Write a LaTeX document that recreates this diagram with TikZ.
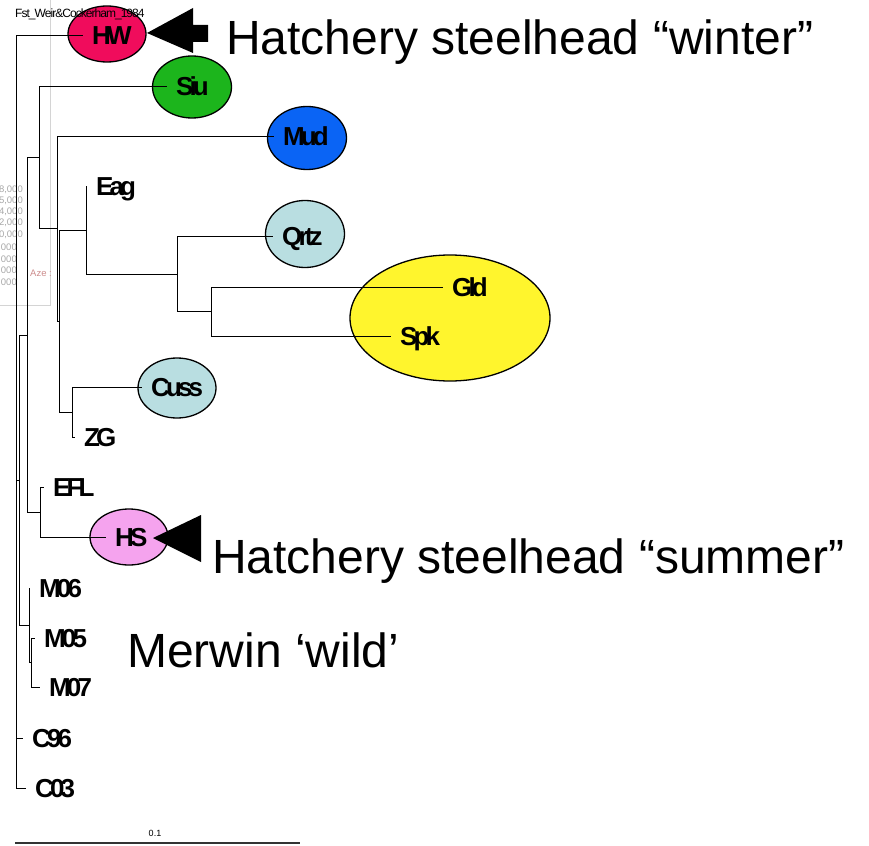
\documentclass[tikz,border=0pt]{standalone}
\usepackage{fontspec}
\setmainfont{Liberation Sans}
\newfontfamily\taxfam{Liberation Sans}[LetterSpace=-15]
\newfontfamily\notefam{Liberation Sans}[LetterSpace=-8]
\definecolor{hwred}{HTML}{F00C5C}
\definecolor{siugreen}{HTML}{1CB51C}
\definecolor{mudblue}{HTML}{0A64F5}
\definecolor{paleblue}{HTML}{B9DEE1}
\definecolor{gldyellow}{HTML}{FFF52D}
\definecolor{hspink}{HTML}{F5A3EE}
\definecolor{ghost}{HTML}{D4D4D4}
\definecolor{ghosttext}{HTML}{A8A8A8}
\definecolor{ghostred}{HTML}{CC8C8C}
\tikzset{
  br/.style={draw=black, line width=0.8pt},
  blob/.style={draw=black, line width=1.3pt},
  tax/.style={font={\taxfam\bfseries\fontsize{26}{26}\selectfont}, anchor=west,
    inner xsep=9pt, inner ysep=0pt, text height=19pt, text depth=0pt},
  callout/.style={font={\fontsize{48}{48}\selectfont}, anchor=base west, inner sep=0pt},
  pointer/.style={fill=black},
  ghosttxt/.style={text=ghosttext, font={\fontsize{9.5}{9.5}\selectfont}, inner sep=0pt, anchor=east},
}

\begin{document}
\begin{tikzpicture}[x=1pt, y=-1pt]
  \useasboundingbox (0,0) rectangle (869,845);

  % faded remains of a pasted window
  \draw[ghost, line width=0.8pt] (50,0) -- (50,305) -- (0,305);
  \node[ghosttxt] (g1) at (23,190) {8,000};
  \node[ghosttxt] (g2) at (23,201) {5,000};
  \node[ghosttxt] (g3) at (23,212) {4,000};
  \node[ghosttxt] (g4) at (23,223) {2,000};
  \node[ghosttxt] (g5) at (23,235) {0,000};
  \node[ghosttxt] (g6) at (17,247) {000};
  \node[ghosttxt] (g7) at (17,259) {000};
  \node[ghosttxt] (g8) at (17,270) {000};
  \node[ghosttxt] (g9) at (17,282) {000};
  \node[ghosttxt, text=ghostred, anchor=west] (aze) at (30,273) {Aze :};

  % groups
  \draw[blob, fill=hwred] (107,34) ellipse [x radius=39, y radius=28];
  \draw[blob, fill=siugreen] (192,87) ellipse [x radius=39.5, y radius=31];
  \draw[blob, fill=mudblue] (307,138) ellipse [x radius=39.5, y radius=31.5];
  \draw[blob, fill=paleblue] (305,234) ellipse [x radius=39.5, y radius=33.5];
  \draw[blob, fill=gldyellow] (450,318) ellipse [x radius=100, y radius=63];
  \draw[blob, fill=paleblue] (177,388) ellipse [x radius=39, y radius=30];
  \draw[blob, fill=hspink] (129,537) ellipse [x radius=39, y radius=28];

  \fill[pointer] (147,33) -- (193,8) -- (193,25) -- (208,25) -- (208,42)
    -- (193,42) -- (193,53) -- cycle;
  \fill[pointer] (153,538) -- (201,515) -- (201,562) -- cycle;

  \node[font={\notefam\fontsize{12}{12}\selectfont}, anchor=base west, inner sep=0pt]
    (fst) at (15,18) {Fst\_Weir\&Cockerham\_1984};

  % tips
  \node[tax] (hw)   at (83,35)   {HW};
  \node[tax] (siu)  at (167,86)  {Siu};
  \node[tax] (mud)  at (274,136) {Mud};
  \node[tax] (eag)  at (87,186)  {Eag};
  \node[tax] (qrtz) at (273,236) {Qrtz};
  \node[tax] (gld)  at (443,287) {Gld};
  \node[tax] (spk)  at (391,336) {Spk};
  \node[tax] (cuss) at (142,387) {Cuss};
  \node[tax] (zg)   at (75,437)  {ZG};
  \node[tax] (efl)  at (44,487)  {EFL};
  \node[tax] (hs)   at (106,537) {HS};
  \node[tax] (m06)  at (30,588)  {M06};
  \node[tax] (m05)  at (35,638)  {M05};
  \node[tax] (m07)  at (40,687)  {M07};
  \node[tax] (c96)  at (23,738)  {C96};
  \node[tax] (c03)  at (26,788)  {C03};

  % inner nodes of the tree
  \coordinate (gs)   at (211,311.5);
  \coordinate (q)    at (177,274);
  \coordinate (e)    at (86,230);
  \coordinate (cz)   at (72,412);
  \coordinate (b)    at (59,321);
  \coordinate (a)    at (57,228);
  \coordinate (c)    at (39,157);
  \coordinate (eh)   at (40,512);
  \coordinate (d)    at (27,335);
  \coordinate (m57)  at (31,662);
  \coordinate (m)    at (29,625);
  \coordinate (g)    at (19,480);
  \coordinate (cc)   at (16,763);
  \coordinate (root) at (16,400);

  \draw[br] (gs) |- (gld.west)  (gs) |- (spk.west);
  \draw[br] (q) |- (qrtz.west)  (q) |- (gs);
  \draw[br] (e) |- (eag.west)   (e) |- (q);
  \draw[br] (cz) |- (cuss.west) (cz) |- (zg.west);
  \draw[br] (b) |- (e)          (b) |- (cz);
  \draw[br] (a) |- (mud.west)   (a) |- (b);
  \draw[br] (c) |- (siu.west)   (c) |- (a);
  \draw[br] (eh) |- (efl.west)  (eh) |- (hs.west);
  \draw[br] (d) |- (c)          (d) |- (eh);
  \draw[br] (m57) |- (m05.west) (m57) |- (m07.west);
  \draw[br] (m) |- (m06.west)   (m) |- (m57);
  \draw[br] (g) |- (d)          (g) |- (m);
  \draw[br] (cc) |- (c96.west)  (cc) |- (c03.west);
  \draw[br] (root) |- (hw.west) (root) |- (g)  (root) |- (cc);

  % notes
  \node[callout] (winter) at (226,55)  {Hatchery steelhead “winter”};
  \node[callout] (summer) at (212,573) {Hatchery steelhead “summer”};
  \node[callout] (wild)   at (127,667) {Merwin ‘wild’};

  % scale bar
  \coordinate (bar0) at (15,843);
  \coordinate (bar1) at (300,843);
  \draw[line width=1.2pt, black!80] (bar0) -- (bar1);
  \node[font={\fontsize{9}{9}\selectfont}, inner sep=0pt] (barlab) at (155,833) {0.1};
\end{tikzpicture}
\end{document}
